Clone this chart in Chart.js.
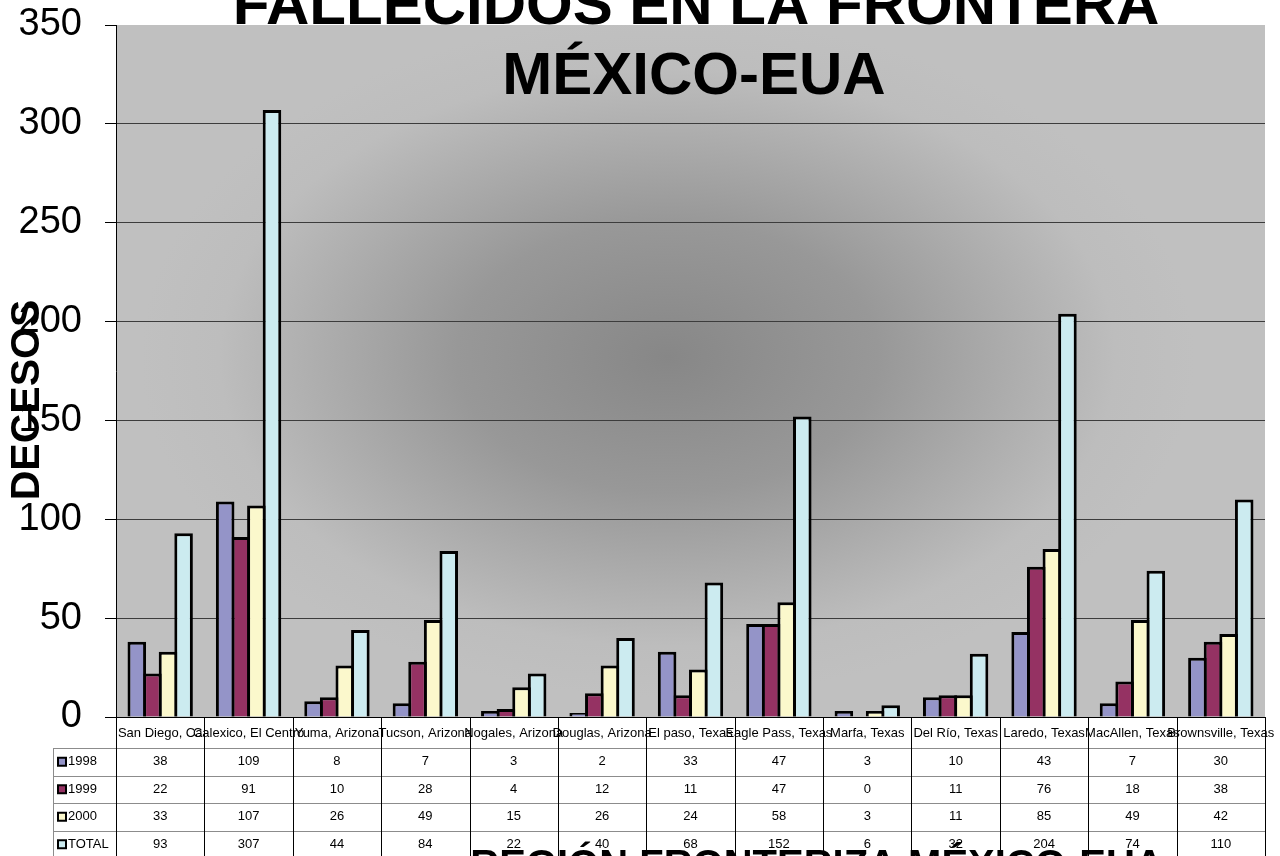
<!DOCTYPE html>
<html>
<head>
<meta charset="utf-8">
<script src="https://cdn.jsdelivr.net/npm/chart.js@4"></script>
<style>
  html, body { margin: 0; background: #fff; }
  canvas { display: block; }
</style>
</head>
<body>
<canvas id="chart" width="1280" height="856"></canvas>
<script>
const categories = ['San Diego, Ca', 'Calexico, El Centro', 'Yuma, Arizona', 'Tucson, Arizona',
  'Nogales, Arizona', 'Douglas, Arizona', 'El paso, Texas', 'Eagle Pass, Texas', 'Marfa, Texas',
  'Del Río, Texas', 'Laredo, Texas', 'MacAllen, Texas', 'Brownsville, Texas'];
const deaths1998 = [38, 109, 8, 7, 3, 2, 33, 47, 3, 10, 43, 7, 30];
const deaths1999 = [22, 91, 10, 28, 4, 12, 11, 47, 0, 11, 76, 18, 38];
const deaths2000 = [33, 107, 26, 49, 15, 26, 24, 58, 3, 11, 85, 49, 42];
const deathsTotal = [93, 307, 44, 84, 22, 40, 68, 152, 6, 32, 204, 74, 110];
const seriesNames = ['1998', '1999', '2000', 'TOTAL'];
const seriesData = [deaths1998, deaths1999, deaths2000, deathsTotal];
const seriesColors = ['#9494c8', '#953263', '#fbf8cc', '#ccebf0'];

const FONT = '"Liberation Sans", Arial, sans-serif';

// grey "from centre" fill behind the plot
const backdrop = {
  id: 'backdrop',
  beforeDraw(chart) {
    const {ctx, chartArea: a} = chart;
    const w = a.right - a.left, h = a.bottom - a.top;
    ctx.save();
    ctx.beginPath();
    ctx.rect(a.left, a.top, w, h);
    ctx.clip();
    ctx.translate(a.left + w * 0.48, a.top + h * 0.48);
    ctx.scale(1.55, 1);
    const g = ctx.createRadialGradient(0, 0, 0, 0, 0, 340);
    g.addColorStop(0, '#878787');
    g.addColorStop(0.4, '#989898');
    g.addColorStop(0.85, '#bdbdbd');
    g.addColorStop(1, '#c0c0c0');
    ctx.fillStyle = g;
    ctx.fillRect(-2000, -2000, 4000, 4000);
    ctx.restore();
  }
};

// data table under the axis + titles
const dataTable = {
  id: 'dataTable',
  afterDraw(chart) {
    const {ctx, chartArea: a} = chart;
    const xs = chart.scales.x;
    const half = (a.right - a.left) / categories.length / 2;
    const rowTop = 748, rowH = 27.5, bottom = 856;
    ctx.save();

    ctx.lineWidth = 1;
    ctx.strokeStyle = '#8c8c8c';
    for (let r = 0; r < 4; r++) {
      const y = Math.round(rowTop + r * rowH) + 0.5;
      ctx.beginPath(); ctx.moveTo(53, y); ctx.lineTo(a.right, y); ctx.stroke();
    }
    ctx.beginPath(); ctx.moveTo(53.5, rowTop); ctx.lineTo(53.5, bottom); ctx.stroke();

    ctx.strokeStyle = '#000';
    for (let i = 0; i <= categories.length; i++) {
      const x = Math.round(xs.getPixelForValue(Math.min(i, categories.length - 1)) + (i < categories.length ? -half : half)) + 0.5;
      ctx.beginPath(); ctx.moveTo(x, a.bottom); ctx.lineTo(x, bottom); ctx.stroke();
    }

    ctx.fillStyle = '#000';
    ctx.font = '13px ' + FONT;
    ctx.textAlign = 'center';
    ctx.textBaseline = 'middle';
    categories.forEach((c, i) => ctx.fillText(c, xs.getPixelForValue(i), 733));
    seriesData.forEach((vals, r) => {
      const y = rowTop + r * rowH + rowH / 2;
      vals.forEach((v, i) => ctx.fillText(String(v), xs.getPixelForValue(i), y));
    });

    ctx.textAlign = 'left';
    seriesNames.forEach((n, r) => {
      const y = rowTop + r * rowH + rowH / 2;
      ctx.fillStyle = seriesColors[r];
      ctx.fillRect(58, y - 4, 8, 8);
      ctx.strokeStyle = '#000';
      ctx.lineWidth = 2;
      ctx.strokeRect(58, y - 4, 8, 8);
      ctx.fillStyle = '#000';
      ctx.fillText(n, 68, y);
    });

    // titles
    ctx.textAlign = 'center';
    ctx.textBaseline = 'alphabetic';
    ctx.font = 'bold 60px ' + FONT;
    ctx.fillText('FALLECIDOS EN LA FRONTERA', 696, 24);
    ctx.fillText('MÉXICO-EUA', 694, 94);
    ctx.font = 'bold 40px ' + FONT;
    ctx.fillText('REGIÓN FRONTERIZA MÉXICO-EUA', 817, 878);

    ctx.translate(28, 400);
    ctx.rotate(-Math.PI / 2);
    ctx.font = 'bold 41px ' + FONT;
    ctx.textBaseline = 'middle';
    ctx.fillText('DECESOS', 0, 0);
    ctx.restore();
  }
};

new Chart(document.getElementById('chart'), {
  type: 'bar',
  data: {
    labels: categories,
    datasets: seriesNames.map((name, i) => ({
      label: name,
      data: seriesData[i],
      backgroundColor: seriesColors[i],
      borderColor: '#000',
      borderWidth: 3,
      borderSkipped: 'start',
      categoryPercentage: 0.706,
      barPercentage: 1.19
    }))
  },
  options: {
    responsive: false,
    animation: false,
    devicePixelRatio: 1,
    layout: { padding: { top: 25, right: 15, left: 0, bottom: 0 } },
    plugins: {
      legend: { display: false },
      tooltip: { enabled: false },
      title: { display: false }
    },
    scales: {
      x: {
        ticks: { display: false },
        grid: { display: false },
        border: { display: true, color: '#000', width: 1 },
        afterFit(s) { s.height = 139; }
      },
      y: {
        min: 0,
        max: 350,
        ticks: { stepSize: 50, color: '#000', font: { family: FONT, size: 38 }, padding: 23 },
        grid: {
          color: c => (c.tick && c.tick.value === 350) ? 'rgba(0,0,0,0)' : '#3c3c3c',
          tickColor: '#000',
          tickLength: 11,
          lineWidth: 1
        },
        border: { color: '#000', width: 1 },
        afterFit(s) { s.width = 116; s.paddingTop = 0; s.paddingBottom = 0; }
      }
    }
  },
  plugins: [backdrop, dataTable]
});
</script>
</body>
</html>
